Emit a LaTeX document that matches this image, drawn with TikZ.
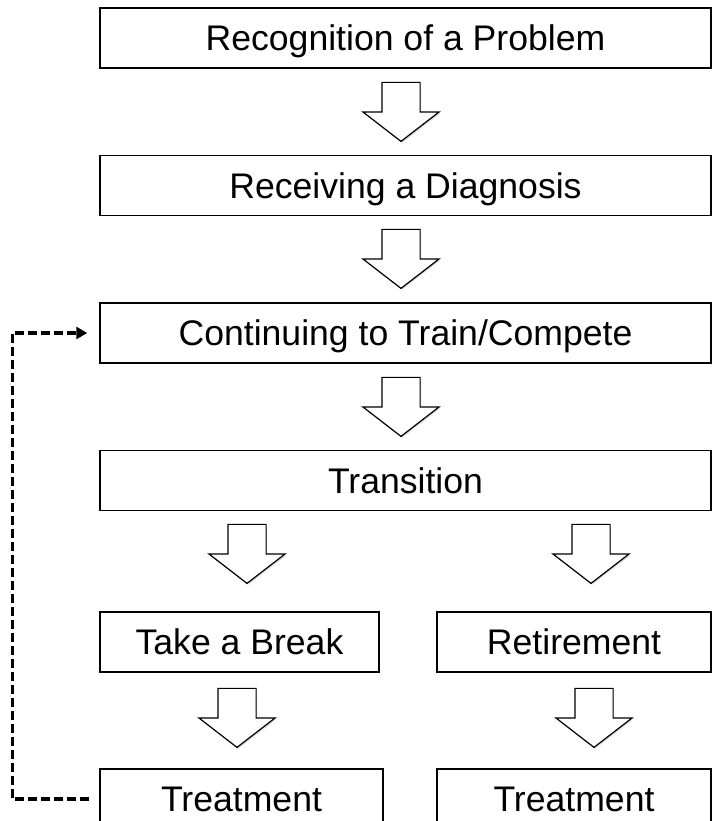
\documentclass[tikz,border=0pt]{standalone}
\usepackage{fontspec}
\setmainfont{Liberation Sans}
\usepackage{tikz}
\usetikzlibrary{arrows.meta}
\usetikzlibrary{shapes.arrows, shadows}
\tikzset{
  stagebox/.style={draw, line width=1.5pt, inner sep=0pt, minimum height=60pt,
    text height=25.5pt, text depth=0pt, font=\fontsize{35.6}{42}\selectfont},
  blockarrow/.style={single arrow, draw, line width=1.2pt, fill=white, inner sep=18.5pt,
    shape border rotate=270, minimum height=59pt, minimum width=75pt,
    single arrow head extend=19pt, single arrow tip angle=104.6,
    drop shadow={shadow xshift=1pt, shadow yshift=-1.5pt, opacity=0.3}},
  loopline/.style={line width=3.2pt, dash pattern=on 9pt off 4pt,
    -{Triangle[length=11pt,width=12pt]}}
}

\begin{document}
\begin{tikzpicture}[x=1pt,y=-1pt]
        \newcommand{\flowfullwidth}{611pt}
        \newcommand{\flowfullx}{405.5}
        \newcommand{\flowmidx}{401}
        \useasboundingbox (0,0) rectangle (713,821);
        \node[stagebox, minimum width=\flowfullwidth] (recognise) at (\flowfullx,38) {Recognition of a Problem};
        \node[stagebox, minimum width=\flowfullwidth] (diagnose) at (\flowfullx,185.5) {Receiving a Diagnosis};
        \node[stagebox, minimum width=\flowfullwidth] (keepgoing) at (\flowfullx,333) {Continuing to Train/Compete};
        \node[stagebox, minimum width=\flowfullwidth] (transition) at (\flowfullx,480.5) {Transition};
        \node[stagebox, minimum width=279pt] (takebreak) at (239.5,642) {Take a Break};
        \node[stagebox, minimum width=274pt] (retire) at (574,642) {Retirement};
        \node[stagebox, minimum width=283pt] (treatbreak) at (241.5,799) {Treatment};
        \node[stagebox, minimum width=274pt] (treatretire) at (574,799) {Treatment};
        \node[blockarrow] (stepa) at (\flowmidx,104.5) {};
        \node[blockarrow] (stepb) at (\flowmidx,251.5) {};
        \node[blockarrow] (stepc) at (\flowmidx,399.5) {};
        \node[blockarrow] (stepd) at (247,546.5) {};
        \node[blockarrow] (stepe) at (591,546.5) {};
        \node[blockarrow] (stepf) at (237,710.5) {};
        \node[blockarrow] (stepg) at (594,710.5) {};
        \draw[loopline, shorten <=10pt, shorten >=12pt] (treatbreak.west) -- ++(-87,0) |- (keepgoing.west);
    \end{tikzpicture}
\end{document}
